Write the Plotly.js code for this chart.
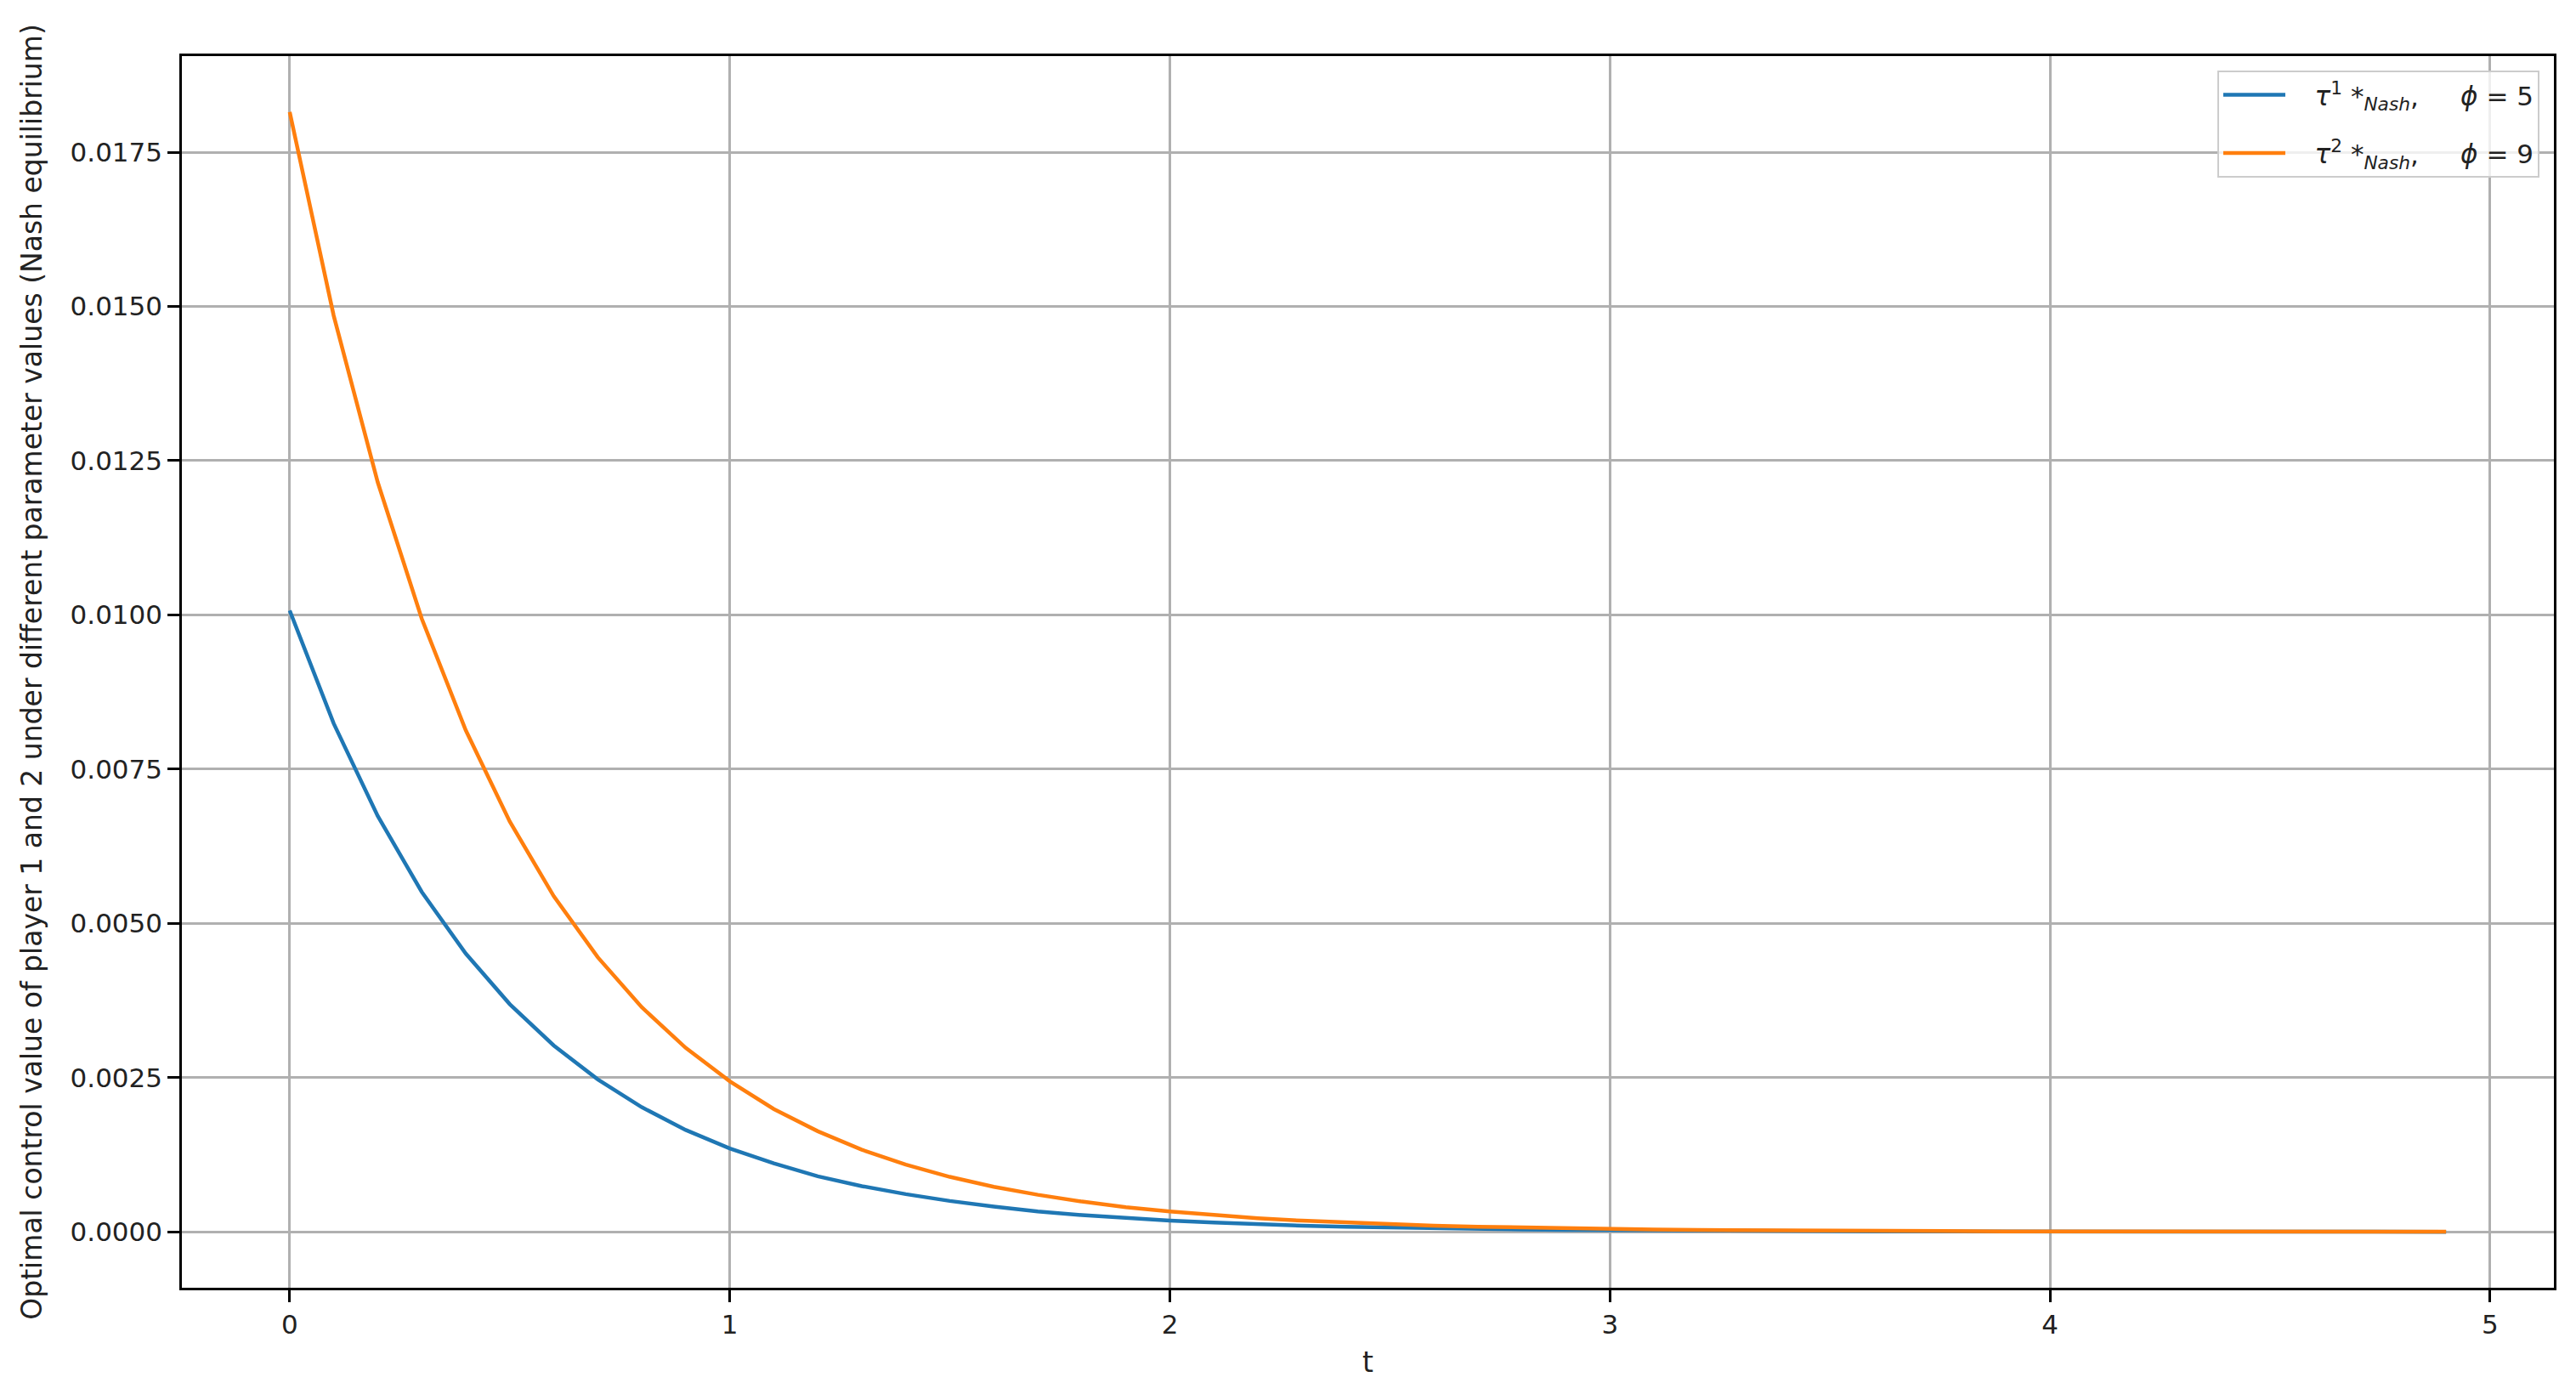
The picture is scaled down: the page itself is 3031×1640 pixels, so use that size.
<!DOCTYPE html>
<html>
<head>
<meta charset="utf-8">
<script src="https://cdn.plot.ly/plotly-3.0.1.min.js"></script>
<style>
  html, body { margin: 0; padding: 0; background: #fff; }
  #graph { width: 3031px; height: 1640px; }
</style>
</head>
<body>
<div id="graph"></div>
<script>
// time grid, step 0.1
let t = [0, 0.1, 0.2, 0.3, 0.4, 0.5, 0.6, 0.7, 0.8, 0.9,
    1.0, 1.1, 1.2, 1.3, 1.4, 1.5, 1.6, 1.7, 1.8, 1.9,
    2.0, 2.1, 2.2, 2.3, 2.4, 2.5, 2.6, 2.7, 2.8, 2.9,
    3.0, 3.1, 3.2, 3.3, 3.4, 3.5, 3.6, 3.7, 3.8, 3.9,
    4.0, 4.1, 4.2, 4.3, 4.4, 4.5, 4.6, 4.7, 4.8, 4.9];

// player 1, phi = 5
let tau1 = [0.01007, 0.00824, 0.00674, 0.00551, 0.00451, 0.00369, 0.00302, 0.00247, 0.00202, 0.00165,
    0.00135, 0.00111, 0.00090, 0.00074, 0.00061, 0.00050, 0.00041, 0.00033, 0.00027, 0.00022,
    0.00018, 0.00015, 0.00012, 0.00010, 0.000082, 0.000067, 0.000055, 0.000045, 0.000037, 0.000030,
    0.000025, 0.000020, 0.000017, 0.000014, 0.000011, 0.000009, 0.000007, 0.000006, 0.000005, 0.000004,
    0.0000034, 0.0000028, 0.0000023, 0.0000019, 0.0000015, 0.0000012, 0.0000010, 0.0000008, 0.0000007, 0.0000006];

// player 2, phi = 9
let tau2 = [0.01815, 0.01485, 0.01215, 0.00994, 0.00813, 0.00665, 0.00544, 0.00445, 0.00364, 0.00298,
    0.00244, 0.00199, 0.00163, 0.00133, 0.00109, 0.00089, 0.00073, 0.00060, 0.00049, 0.00040,
    0.00033, 0.00027, 0.00022, 0.00018, 0.00015, 0.00012, 0.00010, 0.000082, 0.000067, 0.000055,
    0.000045, 0.000037, 0.000030, 0.000025, 0.000020, 0.000017, 0.000014, 0.000011, 0.000009, 0.0000075,
    0.0000061, 0.0000050, 0.0000041, 0.0000034, 0.0000028, 0.0000023, 0.0000018, 0.0000015, 0.0000012, 0.0000010];

let xTicks = [0, 1, 2, 3, 4, 5];
let yTicks = [0, 0.0025, 0.005, 0.0075, 0.01, 0.0125, 0.015, 0.0175];

let sp = "\u00A0";
let name1 = sp.repeat(3) + "<i>τ</i><sup>1</sup> *<sub><i>Nash</i></sub>," + sp.repeat(5) + "<i>ϕ</i> = 5";
let name2 = sp.repeat(3) + "<i>τ</i><sup>2</sup> *<sub><i>Nash</i></sub>," + sp.repeat(5) + "<i>ϕ</i> = 9";

function plot() {
    let line1 = {
        x: t,
        y: tau1,
        name: name1,
        type: "scatter",
        mode: "lines",
        legendgroup: "a",
        line: { color: "#1f77b4", width: 4.5 }
    };

    let line2 = {
        x: t,
        y: tau2,
        name: name2,
        type: "scatter",
        mode: "lines",
        legendgroup: "b",
        line: { color: "#ff7f0e", width: 4.5 }
    };

    let axisCommon = {
        showline: true,
        mirror: true,
        linecolor: "#000",
        linewidth: 2.5,
        ticks: "outside",
        ticklen: 14,
        tickwidth: 2.5,
        tickcolor: "#000",
        showgrid: true,
        gridcolor: "#b0b0b0",
        gridwidth: 2.5,
        zeroline: false,
        tickfont: { family: "DejaVu Sans", size: 31, color: "#222" }
    };

    let layout = {
        width: 3031,
        height: 1640,
        margin: { l: 214, r: 26, t: 66, b: 125 },
        paper_bgcolor: "#fff",
        plot_bgcolor: "#fff",
        font: { family: "DejaVu Sans", size: 31, color: "#222" },
        xaxis: Object.assign({}, axisCommon, {
            range: [-0.245, 5.145],
            tickvals: xTicks,
            ticktext: xTicks.map(String),
            title: { text: "t", font: { family: "DejaVu Sans", size: 33, color: "#222" }, standoff: 16 }
        }),
        yaxis: Object.assign({}, axisCommon, {
            range: [-0.000907, 0.019057],
            tickvals: yTicks,
            ticktext: yTicks.map(v => v.toFixed(4)),
            title: {
                text: "Optimal control value of player 1 and 2 under different parameter values (Nash equilibrium)",
                font: { family: "DejaVu Sans", size: 33, color: "#222" },
                standoff: 24
            }
        }),
        showlegend: true,
        legend: {
            x: 0.9939,
            y: 0.9883,
            xanchor: "right",
            yanchor: "top",
            bgcolor: "rgba(255,255,255,0.8)",
            bordercolor: "#cccccc",
            borderwidth: 2,
            traceorder: "grouped",
            tracegroupgap: 25,
            itemwidth: 73,
            font: { family: "DejaVu Sans", size: 31, color: "#222" }
        }
    };

    Plotly.newPlot("graph", [line1, line2], layout, { displayModeBar: false });
}

plot();
</script>
</body>
</html>
